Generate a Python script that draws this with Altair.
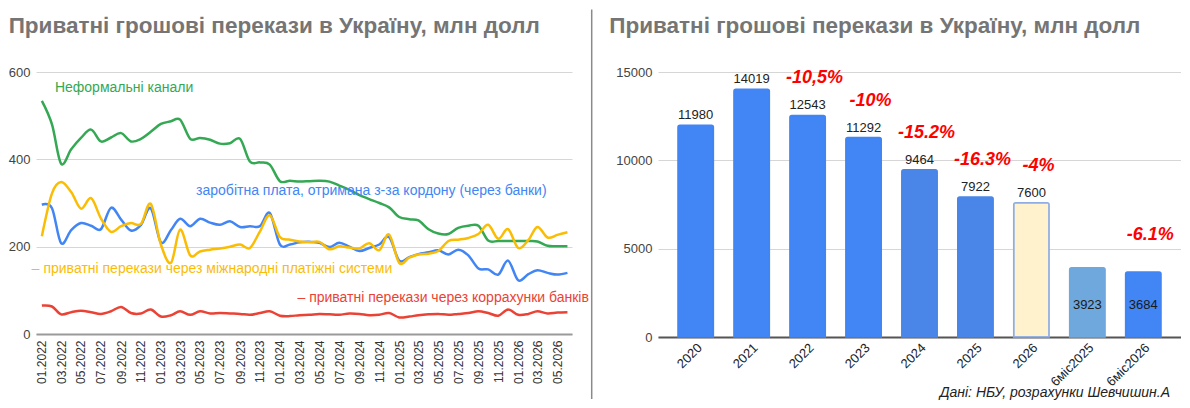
import altair as alt
import pandas as pd

# ---------------- data: left chart (monthly, млн долл) ----------------
months = pd.date_range("2022-01-01", periods=54, freq="MS").strftime("%Y-%m-%dT00:00:00").tolist()

tick_labels = ["01.2022", "03.2022", "05.2022", "07.2022", "09.2022", "11.2022",
               "01.2023", "03.2023", "05.2023", "07.2023", "09.2023", "11.2023",
               "01.2024", "03.2024", "05.2024", "07.2024", "09.2024", "11.2024",
               "01.2025", "03.2025", "05.2025", "07.2025", "09.2025", "11.2025",
               "01.2026", "03.2026", "05.2026"]

informal = [534, 480, 390, 423, 449, 468, 441, 450, 460, 441,
            447, 463, 481, 487, 491, 447, 449, 445, 436, 437,
            447, 395, 393, 388, 350, 351, 349, 350, 351, 349,
            340, 330, 318, 309, 300, 290, 268, 263, 260, 240,
            230, 229, 243, 248, 248, 214, 213, 213, 213, 213,
            212, 202, 201, 201]

wages = [296, 288, 208, 238, 254, 248, 240, 289, 262, 237,
         250, 288, 210, 238, 264, 247, 264, 255, 250, 258,
         245, 247, 247, 277, 205, 205, 210, 211, 209, 199,
         209, 200, 190, 197, 205, 222, 168, 176, 183, 187,
         192, 182, 193, 180, 150, 148, 136, 168, 123, 137,
         146, 140, 136, 140]

payment_systems = [224, 322, 348, 325, 287, 311, 265, 234, 247, 254,
                   252, 298, 205, 163, 239, 180, 189, 193, 196, 200,
                   205, 197, 235, 272, 222, 216, 212, 210, 211, 194,
                   201, 198, 196, 208, 192, 228, 163, 175, 182, 184,
                   190, 213, 216, 220, 229, 250, 218, 240, 197, 215,
                   245, 221, 227, 233]

corr_accounts = [65, 63, 45, 50, 53, 50, 46, 52, 62, 48,
                 47, 56, 40, 43, 52, 44, 52, 47, 48, 47,
                 46, 44, 48, 52, 42, 41, 43, 44, 46, 45,
                 44, 47, 46, 43, 44, 48, 38, 40, 43, 45,
                 46, 44, 46, 48, 52, 48, 42, 56, 44, 46,
                 52, 47, 49, 50]

series = ["Неформальні канали", "Заробітна плата", "Платіжні системи", "Коррахунки банків"]
line_colors = ["#34A853", "#4285F4", "#FBBC04", "#EA4335"]

ann_text = ["Неформальні канали",
            "заробітна плата, отримана з-за кордону (через банки)",
            "– приватні перекази через міжнародні платіжні системи",
            "– приватні перекази через коррахунки банків"]
ann_month = ["2022-02-10T00:00:00", "2023-04-19T00:00:00", "2021-12-01T00:00:00", "2024-02-24T00:00:00"]
ann_value = [563, 327, 150, 82]

# ---------------- data: right chart (annual totals) ----------------
periods = ["2020", "2021", "2022", "2023", "2024", "2025", "2026", "6міс2025", "6міс2026"]
totals = [11980, 14019, 12543, 11292, 9464, 7922, 7600, 3923, 3684]
pct_periods = ["2022", "2023", "2024", "2025", "2026", "6міс2026"]
pct_text = ["-10,5%", "-10%", "-15.2%", "-16.3%", "-4%", "-6.1%"]

bar_fill = ["#4285F4", "#4285F4", "#4285F4", "#4285F4", "#4A86E8", "#4A86E8", "#FFF2CC", "#6FA8DC", "#4285F4"]
bar_stroke = ["#4285F4", "#4285F4", "#4285F4", "#4285F4", "#4A86E8", "#4A86E8", "#8EAEE3", "#6FA8DC", "#4285F4"]

TITLE = "Приватні грошові перекази в Україну, млн долл"
FOOT = "Дані: НБУ, розрахунки Шевчишин.А"

# ---------------- tables ----------------
rows = []
for name, vals in zip(series, [informal, wages, payment_systems, corr_accounts]):
    for m, v in zip(months, vals):
        rows.append({"month": m, "series": name, "value": v})
lines_df = pd.DataFrame(rows)
ann_df = pd.DataFrame({"month": ann_month, "value": ann_value, "text": ann_text, "series": series})

bars_df = pd.DataFrame({"period": periods, "total": totals})
bars_df["inside"] = bars_df["period"].str.startswith("6міс")
pct_df = pd.DataFrame({"period": pct_periods, "pct": pct_text})
pct_df["total"] = pct_df["period"].map(dict(zip(periods, totals)))
title_df = pd.DataFrame({"title": [TITLE]})
foot_df = pd.DataFrame({"foot": [FOOT]})

title_style = dict(align="left", baseline="alphabetic", fontSize=22.5, fontWeight="bold", color="#757575")

# ---------------- left chart ----------------
x_left = alt.X(
    "month:T",
    scale=alt.Scale(domain=[alt.DateTime(year=2021, month=12, date=14),
                            alt.DateTime(year=2026, month=6, date=15)]),
    axis=alt.Axis(title=None,
                  values=[alt.DateTime(year=int(t[3:]), month=int(t[:2]), date=1) for t in tick_labels],
                  tickCount=100,
                  format="%m.%Y", labelAngle=-90, labelFontSize=12, labelColor="#333",
                  labelPadding=6, ticks=False, grid=False, domainColor="#9a9a9a", domainWidth=2,
                  labelOverlap=False, labelFlush=False),
)
y_left = alt.Y("value:Q", scale=alt.Scale(domain=[0, 600], nice=False),
               axis=alt.Axis(title=None, values=[0, 200, 400, 600], labelFontSize=13,
                             labelColor="#444", labelPadding=6, ticks=False, domain=False,
                             gridColor="#d6d6d6"))
color_left = alt.Color("series:N", scale=alt.Scale(domain=series, range=line_colors), legend=None)

lines = alt.Chart(lines_df).mark_line(strokeWidth=2.5, interpolate="cardinal").encode(
    x=x_left, y=y_left, color=color_left)
labels = alt.Chart(ann_df).mark_text(align="left", baseline="middle", fontSize=14).encode(
    x="month:T", y="value:Q", text="text:N", color=color_left)
separator = alt.Chart(pd.DataFrame({"k": [0]})).mark_rule(color="#8a8a8a", strokeWidth=1.5).encode(
    x=alt.value(555.7), y=alt.value(-62.5), y2=alt.value(327))
left_title = alt.Chart(title_df).mark_text(**title_style).encode(
    x=alt.value(-27.3), y=alt.value(-38.8), text="title:N")

left = alt.layer(lines, labels, separator, left_title).properties(width=536, height=262)

# ---------------- right chart ----------------
x_right = alt.X(
    "period:N", sort=periods,
    scale=alt.Scale(paddingInner=0.367, paddingOuter=0.357),
    axis=alt.Axis(title=None, labelAngle=-45, labelFontSize=13, labelColor="#222", ticks=False,
                  domainColor="#555", domainWidth=2, labelPadding=4),
)
y_right = alt.Y("total:Q", scale=alt.Scale(domain=[0, 15000], nice=False),
                axis=alt.Axis(title=None, values=[0, 5000, 10000, 15000], format="d",
                              labelFontSize=13, labelColor="#444", labelPadding=6, ticks=False,
                              domain=False, gridColor="#d6d6d6"))

bars = alt.Chart(bars_df).mark_bar(strokeWidth=1.5, cornerRadiusTopLeft=2, cornerRadiusTopRight=2).encode(
    x=x_right, y=y_right,
    color=alt.Color("period:N", scale=alt.Scale(domain=periods, range=bar_fill), legend=None),
    stroke=alt.Stroke("period:N", scale=alt.Scale(domain=periods, range=bar_stroke), legend=None),
)
top_labels = alt.Chart(bars_df).transform_filter("!datum.inside").mark_text(
    baseline="bottom", dy=-3, fontSize=13, color="#222").encode(
    x=x_right, y=y_right, text="total:Q")
inside_labels = alt.Chart(bars_df).transform_filter("datum.inside").mark_text(
    baseline="middle", dy=-32, fontSize=13, color="#1a1a1a").encode(
    x=x_right, y=alt.datum(0), text="total:Q")
pct_labels = alt.Chart(pct_df).mark_text(
    baseline="middle", dy=-37, dx=7, fontSize=18, fontWeight="bold", fontStyle="italic",
    color="#FF0000").encode(x=x_right, y=y_right, text="pct:N")
right_title = alt.Chart(title_df).mark_text(**title_style).encode(
    x=alt.value(-48.7), y=alt.value(-38.8), text="title:N")
footnote = alt.Chart(foot_df).mark_text(
    align="right", baseline="alphabetic", fontSize=14, fontStyle="italic", color="#222").encode(
    x=alt.value(512), y=alt.value(60 + 265), text="foot:N")

right = alt.layer(bars, top_labels, inside_labels, pct_labels, right_title, footnote).properties(
    width=523, height=265)

chart = alt.hconcat(left, right, spacing=86).properties(
    bounds="flush", padding=0
).resolve_scale(color="independent", stroke="independent").configure(
    font="Liberation Sans").configure_view(stroke=None)

chart.save("out.html", embed_options={"renderer": "svg", "actions": False})
